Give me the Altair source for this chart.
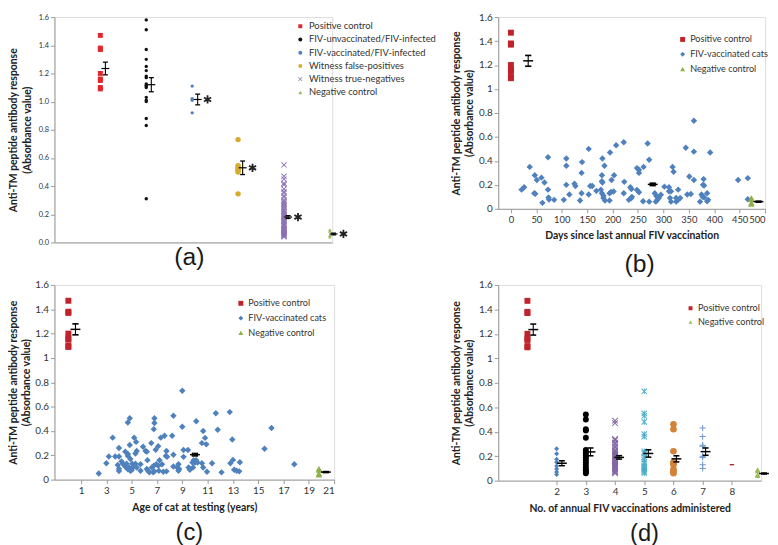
import math
import altair as alt
import pandas as pd

FONT = "Lato"
TITLE_FONT = "Liberation Sans"
Y_TITLE = ["Anti-TM peptide antibody response", "(Absorbance value)"]
Y_TICKS = [0, 0.2, 0.4, 0.6, 0.8, 1.0, 1.2, 1.4, 1.6]

# ---------------- panel (a) data ----------------
a_groups = ["Positive control", "FIV-unvaccinated/FIV-infected",
            "FIV-vaccinated/FIV-infected", "Witness false-positives",
            "Witness true-negatives", "Negative control"]
a_positive = [1.47, 1.38, 1.37, 1.20, 1.16, 1.15, 1.10, 1.09]
a_unvaccinated = [1.58, 1.51, 1.37, 1.30, 1.25, 1.22, 1.18, 1.17, 1.125, 1.115,
                  1.11, 1.10, 1.03, 1.01, 1.00, 0.88, 0.83, 0.31]
a_vaccinated = [1.11, 1.02, 1.01, 0.92]
a_false_pos = [0.73, 0.545, 0.535, 0.52, 0.51, 0.50, 0.345]
a_true_neg = [0.55, 0.47, 0.45, 0.42, 0.41, 0.38, 0.36, 0.35, 0.33, 0.32,
              0.30, 0.29, 0.28, 0.27, 0.26, 0.25, 0.24, 0.23, 0.22, 0.21,
              0.20, 0.19, 0.185, 0.18, 0.17, 0.16, 0.155, 0.15, 0.14, 0.13,
              0.125, 0.12, 0.11, 0.10, 0.095, 0.09, 0.085, 0.08, 0.075, 0.07,
              0.065, 0.06, 0.055, 0.05, 0.045, 0.04]
a_negative = [0.09, 0.08, 0.05, 0.04]
a_mean_x = [1.11, 2.11, 3.12, 4.10, 5.09, 6.08]
a_means = [1.235, 1.12, 1.015, 0.53, 0.18, 0.06]
a_sems = [0.045, 0.05, 0.038, 0.048, 0.01, 0.006]
a_significant = [False, False, True, True, True, True]

# ---------------- panel (b) data ----------------
b_groups = ["Positive control", "FIV-vaccinated cats", "Negative control"]
b_pos_day = 0
b_days = [21, 26, 37, 47, 51, 46, 48, 60, 66, 62,
          73, 73, 74, 75, 85, 104, 109, 109, 109, 115,
          125, 127, 136, 140, 139, 139, 153, 156, 160, 153,
          168, 177, 180, 184, 179, 179, 180, 179, 182, 182,
          185, 195, 203, 198, 194, 197, 202, 194, 207, 222,
          223, 222, 235, 237, 232, 237, 238, 248, 252, 252,
          261, 269, 272, 248, 252, 260, 272, 283, 286, 285,
          288, 291, 295, 302, 311, 311, 315, 318, 320, 313,
          315, 325, 325, 329, 333, 329, 344, 351, 347, 354,
          360, 360, 360, 379, 378, 380, 375, 377, 380, 372,
          386, 386, 388, 392, 447, 466, 466]
b_values = [0.16, 0.18, 0.35, 0.28, 0.24, 0.13, 0.125, 0.26, 0.22, 0.05,
            0.43, 0.16, 0.095, 0.077, 0.075, 0.075, 0.42, 0.36, 0.20, 0.12,
            0.21, 0.19, 0.07, 0.39, 0.30, 0.13, 0.50, 0.19, 0.19, 0.12,
            0.15, 0.16, 0.42, 0.36, 0.28, 0.23, 0.22, 0.13, 0.11, 0.09,
            0.07, 0.47, 0.28, 0.24, 0.13, 0.14, 0.145, 0.07, 0.53, 0.555,
            0.225, 0.13, 0.18, 0.165, 0.075, 0.09, 0.10, 0.34, 0.325, 0.30,
            0.35, 0.545, 0.41, 0.157, 0.138, 0.063, 0.06, 0.13, 0.107, 0.06,
            0.075, 0.09, 0.118, 0.185, 0.18, 0.146, 0.146, 0.35, 0.31, 0.09,
            0.06, 0.09, 0.06, 0.075, 0.09, 0.16, 0.51, 0.27, 0.12, 0.124,
            0.735, 0.477, 0.24, 0.248, 0.20, 0.195, 0.12, 0.10, 0.097, 0.06,
            0.13, 0.063, 0.075, 0.47, 0.24, 0.256, 0.08]
b_neg_day = 473
b_mean_x = [34, 279, 487]
b_means = [1.235, 0.204, 0.06]
b_sems = [0.045, 0.01, 0.004]

# ---------------- panel (c) data ----------------
c_pos_age = 0
c_ages = [2.4, 3.0, 3.2, 3.5, 3.7, 3.9, 4.0, 4.0, 4.0, 4.0,
          4.2, 4.3, 4.5, 4.5, 4.6, 4.7, 4.7, 4.7, 4.85, 4.85,
          4.7, 4.8, 4.9, 5.0, 4.9, 5.05, 5.1, 5.2, 5.3, 5.35,
          5.4, 5.3, 5.4, 5.7, 5.7, 5.9, 6.1, 6.2, 6.25, 6.2,
          6.3, 6.4, 6.55, 6.6, 6.7, 6.8, 6.75, 6.8, 6.8, 6.75,
          6.9, 6.95, 7.1, 7.1, 7.15, 7.2, 7.3, 7.4, 7.5, 7.6,
          7.7, 7.8, 7.75, 7.75, 8.2, 8.3, 8.3, 8.3, 8.6, 8.7,
          8.75, 8.7, 9.0, 9.0, 9.1, 9.1, 9.45, 9.5, 9.6, 9.8,
          9.9, 10.0, 9.85, 10.1, 10.1, 10.2, 10.55, 10.55, 10.65, 10.65,
          10.8, 10.9, 10.95, 11.35, 11.65, 11.8, 12.1, 12.75, 12.8, 12.95,
          13.0, 13.1, 13.3, 13.5, 13.55, 15.5, 16.05, 17.85]
c_values = [0.05, 0.135, 0.19, 0.345, 0.19, 0.12, 0.07, 0.09, 0.26, 0.19,
            0.15, 0.13, 0.23, 0.105, 0.13, 0.21, 0.195, 0.47, 0.505, 0.285,
            0.085, 0.10, 0.073, 0.078, 0.17, 0.13, 0.10, 0.345, 0.215, 0.31,
            0.235, 0.13, 0.10, 0.073, 0.127, 0.27, 0.235, 0.23, 0.16, 0.087,
            0.073, 0.06, 0.30, 0.10, 0.06, 0.068, 0.415, 0.505, 0.465, 0.115,
            0.245, 0.127, 0.115, 0.275, 0.073, 0.16, 0.345, 0.127, 0.065, 0.36,
            0.195, 0.187, 0.235, 0.068, 0.36, 0.525, 0.205, 0.108, 0.10, 0.073,
            0.087, 0.127, 0.73, 0.435, 0.187, 0.243, 0.243, 0.10, 0.081, 0.14,
            0.16, 0.14, 0.10, 0.16, 0.48, 0.14, 0.135, 0.30, 0.40, 0.10,
            0.343, 0.29, 0.065, 0.135, 0.546, 0.41, 0.06, 0.555, 0.135, 0.33,
            0.162, 0.081, 0.073, 0.068, 0.143, 0.254, 0.424, 0.127]
c_neg_age = 19.8
c_mean_x = [0.56, 10.0, 20.35]
c_means = [1.235, 0.205, 0.062]
c_sems = [0.045, 0.01, 0.004]

# ---------------- panel (d) data ----------------
d_groups = ["Positive control", "2", "3", "4", "5", "6", "7", "8", "Negative control"]
d_x = [1, 2, 3, 4, 5, 6, 7, 8, 8.88]
d_vals_2 = [0.26, 0.22, 0.175, 0.15, 0.12, 0.095, 0.07, 0.05]
d_vals_3 = [0.54, 0.50, 0.42, 0.41, 0.35, 0.25, 0.23, 0.21, 0.19, 0.17,
            0.15, 0.13, 0.11, 0.09, 0.08, 0.07, 0.06]
d_vals_4 = [0.49, 0.47, 0.34, 0.33, 0.31, 0.30, 0.28, 0.27, 0.25, 0.24,
            0.23, 0.22, 0.21, 0.20, 0.19, 0.18, 0.17, 0.16, 0.15, 0.14,
            0.13, 0.12, 0.11, 0.10, 0.09, 0.08, 0.07, 0.06]
d_vals_5 = [0.73, 0.55, 0.53, 0.48, 0.38, 0.36, 0.24, 0.23, 0.22, 0.19,
            0.17, 0.15, 0.14, 0.12, 0.11, 0.10, 0.09, 0.08, 0.07, 0.06]
d_vals_6 = [0.46, 0.42, 0.24, 0.15, 0.14, 0.13, 0.09, 0.08, 0.07, 0.06]
d_vals_7 = [0.43, 0.36, 0.29, 0.28, 0.20, 0.19, 0.13, 0.10]
d_vals_8 = [0.13]
d_mean_x = [1.2, 2.18, 3.16, 4.14, 5.14, 6.1, 7.1, 9.1]
d_means = [1.235, 0.142, 0.235, 0.19, 0.222, 0.178, 0.237, 0.058]
d_sems = [0.045, 0.02, 0.032, 0.014, 0.03, 0.025, 0.03, 0.004]

controls_pos = a_positive
controls_neg = a_negative


# ---------------- marker shapes (style) ----------------
def bar(theta, half_len, half_w):
    t = math.radians(theta)
    dx, dy = math.cos(t) * half_len, math.sin(t) * half_len
    nx, ny = -math.sin(t) * half_w, math.cos(t) * half_w
    pts = [(-dx - nx, -dy - ny), (dx - nx, dy - ny), (dx + nx, dy + ny), (-dx + nx, -dy + ny)]
    return "M" + "L".join(f"{x:.3f},{y:.3f}" for x, y in pts) + "Z"


X_MARK = bar(45, 1.35, 0.16) + bar(135, 1.35, 0.16)
PLUS = bar(0, 1, 0.16) + bar(90, 1, 0.16)
STAR = bar(45, 1.3, 0.15) + bar(135, 1.3, 0.15) + bar(90, 1, 0.15)
SIG = bar(90, 1, 0.22) + bar(30, 1, 0.22) + bar(150, 1, 0.22)
MEAN_DASH = bar(0, 1, 0.15)
CAP_DASH = bar(0, 1, 0.26)
SMALL_DASH = bar(0, 1, 0.3)


def points_frame(groups, xs, value_lists, sizes):
    rows = []
    for g, x, vals, s in zip(groups, xs, value_lists, sizes):
        xv = x if isinstance(x, list) else [x] * len(vals)
        for xx, v in zip(xv, vals):
            rows.append({"x": xx, "y": v, "group": g, "sz": s})
    return pd.DataFrame(rows)


def ebar_frame(xs, means, sems):
    return pd.DataFrame({"x": xs, "y": means,
                         "lo": [m - s for m, s in zip(means, sems)],
                         "hi": [m + s for m, s in zip(means, sems)]})


def y_axis(label_size, fmt, title_pad):
    return alt.Axis(values=Y_TICKS, format=fmt, title=Y_TITLE, labelFontSize=label_size,
                    labelFont=FONT, labelColor="#333", titleFont=FONT, titleFontSize=10.5,
                    titleFontWeight="bold", titleColor="#222", titleLineHeight=13.5,
                    titlePadding=title_pad, tickSize=4, labelPadding=2, grid=False,
                    domainColor="#9a9a9a", tickColor="#9a9a9a")


def x_axis(values, title, label_size=10):
    return alt.Axis(values=values, title=title, labelFontSize=label_size, labelFont=FONT,
                    labelColor="#333", titleFont=FONT, titleFontSize=10.5,
                    titleFontWeight="bold", titleColor="#222", titlePadding=7,
                    tickSize=4, labelPadding=2, grid=False, format="d",
                    labelOverlap=False, domainColor="#9a9a9a", tickColor="#9a9a9a")


def legend(x, y, size, font_size, row_pad, label_offset, values=None):
    kw = dict(orient="none", legendX=x, legendY=y, title=None, labelFont=FONT,
              labelFontSize=font_size, labelColor="#333", symbolSize=size,
              rowPadding=row_pad, labelOffset=label_offset, symbolStrokeWidth=0)
    if values is not None:
        kw["values"] = values
    return alt.Legend(**kw)


def panel(key, pts, groups, colors, shapes, eb, xscale, xaxis, yaxis, width, height,
          leg, title, mean_size=90, cap_size=30, extra=()):
    yscale = alt.Scale(domain=[0, 1.6], nice=False, zero=False)
    gfield = "group_" + key

    def X(f="x"):
        return alt.X(f"{f}:Q", scale=xscale, axis=xaxis)

    def Y(f="y"):
        return alt.Y(f"{f}:Q", scale=yscale, axis=yaxis)

    pts = pts.rename(columns={"group": gfield})
    layer_pts = alt.Chart(pts).mark_point(filled=True, opacity=1, strokeWidth=0).encode(
        x=X(), y=Y(),
        color=alt.Color(f"{gfield}:N", scale=alt.Scale(domain=groups, range=colors), legend=leg),
        shape=alt.Shape(f"{gfield}:N", scale=alt.Scale(domain=groups, range=shapes), legend=leg),
        size=alt.Size("sz:Q", scale=None),
    )
    base = alt.Chart(eb)
    rule = base.mark_rule(color="black", strokeWidth=1.1).encode(x=X(), y=Y("lo"), y2="hi:Q")
    caps_lo = base.mark_point(shape=CAP_DASH, filled=True, size=cap_size, color="black",
                              opacity=1, strokeWidth=0).encode(x=X(), y=Y("lo"))
    caps_hi = base.mark_point(shape=CAP_DASH, filled=True, size=cap_size, color="black",
                              opacity=1, strokeWidth=0).encode(x=X(), y=Y("hi"))
    mean = base.mark_point(shape=MEAN_DASH, filled=True, size=mean_size, color="black",
                           opacity=1, strokeWidth=0).encode(x=X(), y=Y())
    layers = [layer_pts, rule, caps_lo, caps_hi, mean]
    for e in extra:
        layers.append(e(X, Y))
    return alt.layer(*layers).properties(width=width, height=height, title=title)


def ptitle(text, dx, offset, size=25):
    return alt.TitleParams(text=text, orient="bottom", fontSize=size, font=TITLE_FONT,
                           fontWeight="normal", color="#1a1a1a", frame="group",
                           anchor="middle", dx=dx, offset=offset)


# ---------------- panel (a) ----------------
pts_a = points_frame(a_groups, [1, 2, 3, 4, 5, 6],
                     [a_positive, a_unvaccinated, a_vaccinated, a_false_pos, a_true_neg, a_negative],
                     [25, 12, 12, 30, 30, 14])
eb_a = ebar_frame(a_mean_x, a_means, a_sems)
sig_a = eb_a[pd.Series(a_significant)]


def stars(X, Y):
    return alt.Chart(sig_a).mark_point(shape=SIG, filled=True, size=70, color="#222",
                                       opacity=1, strokeWidth=0, xOffset=10).encode(x=X(), y=Y())


pa = panel("a", pts_a, a_groups,
           ["#e3262b", "#111111", "#4f81bd", "#d8ab2e", "#8a70b4", "#9bbb59"],
           ["square", "circle", "circle", "circle", X_MARK, "triangle-up"],
           eb_a,
           alt.Scale(domain=[0, 6.05], nice=False, zero=False),
           alt.Axis(labels=False, ticks=False, title=None, grid=False, domainColor="#9a9a9a"),
           y_axis(7.5, ".1f", 6), 281, 228,
           legend(244, 4.5, 16, 9.5, 2.4, 4), ptitle("(a)", -4, -1),
           mean_size=64, cap_size=25, extra=(stars,))

# ---------------- panel (b) ----------------
pts_b = points_frame(b_groups, [b_pos_day, b_days, b_neg_day],
                     [controls_pos, b_values, controls_neg], [36, 42, 42])
pb = panel("b", pts_b, b_groups, ["#c0232a", "#4f81bd", "#8db04a"],
           ["square", "diamond", "triangle-up"],
           ebar_frame(b_mean_x, b_means, b_sems),
           alt.Scale(domain=[-25, 500], nice=False, zero=False),
           x_axis(list(range(0, 501, 50)), "Days since last annual FIV vaccination", 9.5),
           y_axis(10, "~g", 4), 270, 194,
           legend(182, 18, 25, 9.2, 5, 3), ptitle("(b)", 8, 11),
           mean_size=100, cap_size=40)

# ---------------- panel (c) ----------------
pts_c = points_frame(b_groups, [c_pos_age, c_ages, c_neg_age],
                     [controls_pos, c_values, controls_neg], [36, 42, 42])
pc = panel("c", pts_c, b_groups, ["#c0232a", "#4f81bd", "#8db04a"],
           ["square", "diamond", "triangle-up"],
           ebar_frame(c_mean_x, c_means, c_sems),
           alt.Scale(domain=[-1.1, 21], nice=False, zero=False),
           x_axis(list(range(1, 22, 2)), "Age of cat at testing (years)"),
           y_axis(10, "~g", 3), 283, 197,
           legend(184, 14, 25, 9.2, 5, 3), ptitle("(c)", -5, 9, 24),
           mean_size=100, cap_size=40)

# ---------------- panel (d) ----------------
pts_d = points_frame(d_groups, d_x,
                     [controls_pos, d_vals_2, d_vals_3, d_vals_4, d_vals_5, d_vals_6,
                      d_vals_7, d_vals_8, controls_neg],
                     [36, 26, 36, 36, 36, 45, 40, 20, 30])
pdd = panel("d", pts_d, d_groups,
            ["#c0232a", "#4f81bd", "#000000", "#8064a2", "#4bacc6", "#d4823a",
             "#6f97cf", "#a3262a", "#9bbb59"],
            ["square", "diamond", "circle", X_MARK, STAR, "circle", PLUS, SMALL_DASH,
             "triangle-up"],
            ebar_frame(d_mean_x, d_means, d_sems),
            alt.Scale(domain=[0, 9], nice=False, zero=False),
            x_axis(list(range(2, 9)), "No. of annual FIV vaccinations administered"),
            y_axis(10, "~g", 4), 266, 198,
            legend(190, 19, 16, 9.2, 4, 3, values=["Positive control", "Negative control"]),
            ptitle("(d)", 15, 9, 24),
            mean_size=100, cap_size=36)

chart = alt.concat(pa, pb, pc, pdd, columns=2, spacing={"row": 43, "column": 166},
                   bounds="flush").resolve_scale(
    x="independent", y="independent", color="independent", shape="independent"
).resolve_legend(color="independent", shape="independent").properties(
    padding={"left": 0, "top": 0, "right": 0, "bottom": 0}
).configure_view(stroke=None).configure(font=FONT)

chart.save("out.html", embed_options={"renderer": "svg", "actions": False})
